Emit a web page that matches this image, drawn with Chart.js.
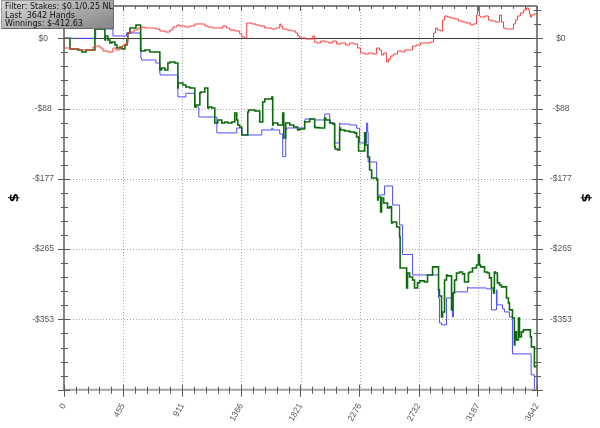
<!DOCTYPE html>
<html><head><meta charset="utf-8">
<script src="https://cdn.jsdelivr.net/npm/chart.js@4.4.0/dist/chart.umd.min.js"></script>
<style>
html,body{margin:0;padding:0;background:#fff;}
#wrap{position:relative;width:600px;height:428px;overflow:hidden;}
#info{position:absolute;left:1px;top:0;width:113px;height:29px;box-sizing:border-box;border:1px solid #6a6a6a;border-top-color:#9a9a9a;border-left-color:#9a9a9a;
background:linear-gradient(160deg,#d8d8d8 0%,#b4b4b4 45%,#848484 100%);font:8px "DejaVu Sans",sans-serif;color:#111;line-height:8.6px;padding:2px 0 0 3px;white-space:pre;}
</style></head><body>
<div id="wrap"><canvas id="c" width="600" height="428"></canvas><div id="info"></div></div>
<script>
const infoLines = ["Filter: Stakes: $0.1/0.25 NL", "Last  3642 Hands", "Winnings: $-412.63"];
const xTicks = [0, 455, 911, 1366, 1821, 2276, 2732, 3187, 3642];
const xTickLabels = ["0", "455", "911", "1366", "1821", "2276", "2732", "3187", "3642"];
const yTicks = [0, -88.32, -176.64, -264.96, -353.28];
const yTickLabels = ["$0", "-$88", "-$177", "-$265", "-$353"];
const yMin = -441.6, yMax = 40.6, xMin = 0, xMax = 3642;

// Winnings (green)
const greenHands = [0,46,54,108,138,169,200,238,244,308,315,319,338,354,369,392,408,431,446,469,485,492,508,523,554,569,590,592,623,661,700,738,751,777,800,815,854,877,879,892,915,938,969,1007,1015,1030,1046,1054,1084,1107,1115,1138,1161,1184,1215,1238,1261,1292,1315,1330,1338,1353,1369,1377,1415,1422,1430,1469,1507,1523,1530,1546,1561,1600,1607,1611,1646,1684,1692,1707,1715,1738,1769,1799,1815,1853,1892,1930,1934,1969,2007,2015,2046,2069,2084,2088,2107,2122,2130,2161,2199,2238,2253,2268,2276,2315,2322,2338,2353,2369,2376,2407,2415,2419,2438,2445,2461,2491,2507,2522,2530,2561,2584,2588,2599,2638,2645,2661,2684,2699,2722,2738,2776,2799,2838,2853,2884,2891,2907,2915,2930,2945,2953,2984,2991,3007,3022,3045,3068,3084,3099,3114,3122,3145,3176,3191,3199,3207,3238,3261,3276,3291,3307,3314,3322,3337,3353,3368,3407,3422,3430,3453,3468,3472,3484,3499,3507,3522,3537,3561,3591,3599,3607,3622,3626,3642];
const greenWin = [0,0,-13.4,-13.4,-14.7,-17.2,-14.7,-14.7,11.7,11.7,21.7,-2.1,2.9,-2.1,-5.9,-4.6,-8.4,-12.2,-10.9,-13.4,-8.4,-2.1,6.7,12.9,12.9,16.7,16.7,-14.7,-16.0,-14.7,-17.2,-17.2,-39.8,-37.3,-39.8,-31.0,-29.8,-31.0,-62.4,-56.2,-56.2,-58.7,-61.2,-62.4,-86.3,-83.8,-83.8,-68.7,-67.5,-62.4,-87.6,-86.3,-87.6,-106.4,-102.6,-106.4,-105.2,-106.4,-105.2,-93.8,-102.6,-108.9,-111.4,-121.5,-121.5,-92.6,-90.1,-90.1,-91.3,-105.2,-105.2,-80.1,-76.3,-76.3,-73.7,-108.9,-106.4,-108.9,-93.8,-125.3,-106.4,-106.4,-108.9,-111.4,-115.2,-113.9,-104.8,-101.4,-111.1,-112.2,-112.7,-100.1,-102.6,-106.4,-107.7,-136.2,-139.1,-140.3,-112.7,-115.2,-116.4,-117.7,-118.9,-124.0,-141.6,-141.6,-118.9,-134.0,-149.1,-165.5,-175.5,-175.5,-178.0,-203.1,-199.4,-218.2,-200.6,-206.9,-213.2,-211.9,-232.0,-230.8,-237.1,-249.6,-288.6,-288.6,-313.7,-294.9,-299.9,-303.7,-313.7,-307.4,-304.9,-306.2,-297.4,-287.3,-287.3,-316.2,-323.8,-350.1,-343.9,-303.7,-297.4,-298.6,-341.3,-320.0,-303.7,-294.9,-293.6,-296.1,-306.2,-306.2,-294.9,-293.6,-288.6,-284.8,-272.2,-284.8,-287.3,-293.6,-294.9,-301.1,-313.7,-320.0,-293.6,-294.9,-307.4,-310.0,-312.4,-326.3,-332.5,-341.3,-351.4,-385.3,-368.9,-379.0,-351.4,-375.2,-368.9,-366.4,-366.4,-375.2,-387.8,-387.8,-412.6,-412.63];

// All-in EV (blue)
const blueHands = [0,244,244,377,381,482,492,592,596,638,707,711,738,742,815,877,879,938,946,1007,1015,1038,1040,1177,1184,1330,1338,1369,1377,1523,1527,1600,1607,1661,1684,1707,1715,1815,1853,1857,1930,2007,2011,2046,2050,2084,2088,2122,2126,2199,2253,2257,2276,2280,2330,2334,2338,2342,2353,2407,2411,2415,2430,2468,2472,2530,2534,2584,2588,2607,2611,2684,2688,2884,2891,2907,2945,2949,2991,2999,3015,3107,3111,3253,3291,3295,3330,3334,3337,3376,3391,3430,3434,3453,3457,3597,3599,3622,3626,3642];
const blueEV = [0,0,11.7,11.7,2.9,2.9,6.7,6.7,-24.7,-27.3,-27.3,-31.0,-31.0,-44.9,-46.1,-46.1,-73.7,-73.7,-69.1,-69.1,-86.3,-86.3,-98.9,-98.9,-118.9,-118.9,-112.7,-112.7,-121.5,-121.5,-115.2,-115.2,-112.7,-115.2,-120.2,-148.7,-115.2,-112.7,-112.7,-102.6,-101.4,-102.6,-95.1,-95.1,-102.6,-106.4,-131.5,-131.5,-106.4,-107.7,-108.9,-113.1,-113.1,-131.5,-131.5,-106.4,-106.4,-117.7,-155.4,-155.4,-175.5,-175.5,-196.9,-196.9,-185.6,-185.6,-209.5,-209.5,-234.6,-234.6,-271.7,-271.7,-297.4,-297.4,-326.3,-357.6,-360.1,-326.3,-326.3,-350.1,-318.7,-318.7,-312.4,-313.7,-314.9,-341.3,-341.3,-316.2,-335.0,-335.0,-340.1,-343.9,-350.1,-350.1,-396.6,-396.6,-423.0,-423.0,-441.5,-441.5];

// Non-showdown winnings (red)
const redHands = [0,46,123,223,238,277,300,338,377,400,431,454,477,492,508,538,569,600,623,661,707,738,777,815,838,869,892,931,969,1007,1046,1084,1107,1146,1184,1223,1253,1277,1315,1353,1369,1392,1407,1415,1446,1477,1507,1546,1569,1600,1630,1661,1669,1684,1715,1753,1784,1799,1815,1838,1861,1892,1915,1930,1946,1976,2007,2038,2069,2099,2130,2169,2199,2230,2261,2284,2315,2345,2376,2407,2430,2445,2461,2484,2499,2515,2538,2568,2599,2622,2653,2684,2714,2745,2776,2822,2845,2861,2876,2899,2915,2930,2953,2976,3007,3038,3068,3099,3130,3153,3176,3184,3199,3207,3238,3268,3291,3322,3353,3368,3384,3399,3422,3461,3476,3491,3514,3537,3561,3576,3584,3591,3599,3607,3622,3642];
const redNSD = [0,-12.2,-13.4,-14.7,-10.9,-9.7,-12.2,-16.0,-17.2,-12.2,-14.7,-10.9,-8.4,-5.9,6.7,7.9,10.4,12.9,14.2,12.9,12.9,11.7,9.2,7.9,10.4,14.2,16.7,15.5,14.2,15.5,18.0,18.0,15.5,14.2,12.9,12.9,15.5,12.9,10.4,9.2,5.4,1.6,0.4,19.2,19.2,18.0,16.7,15.5,12.9,12.9,11.7,12.9,18.0,15.5,11.7,10.4,9.2,6.7,2.9,0.4,0.4,-0.9,-0.9,2.9,-4.6,-5.9,-3.4,-4.6,-5.9,-3.4,-7.2,-5.9,-8.4,-5.9,-7.2,-12.2,-18.5,-19.7,-18.5,-19.7,-12.2,-14.7,-21.0,-18.5,-29.8,-26.0,-22.2,-19.7,-16.0,-17.2,-14.7,-14.7,-9.7,-8.4,-5.9,-5.9,-4.6,6.7,12.9,10.4,9.2,23.0,28.0,26.7,25.5,24.2,21.7,20.5,19.2,16.7,18.0,29.3,40.0,28.0,26.7,28.0,23.0,21.7,20.5,29.3,20.5,12.9,11.7,11.7,18.0,23.0,28.0,31.8,35.6,38.1,35.6,30.5,26.7,29.3,29.3,30.5];

document.getElementById('info').textContent = infoLines.join('\n');

const pts = (xs, ys) => xs.map((x, i) => ({x: x, y: ys[i]}));
const tickFont = {family: '"Liberation Sans", Arial, sans-serif', size: 8.5};
const titleFont = {family: '"DejaVu Sans", sans-serif', size: 13, weight: 'bold'};

function line(ctx, x1, y1, x2, y2) { ctx.beginPath(); ctx.moveTo(x1, y1); ctx.lineTo(x2, y2); ctx.stroke(); }

const axesPlugin = {
  id: 'axesPlugin',
  beforeDatasetsDraw(chart) {
    const {ctx, chartArea: a} = chart;
    const x = chart.scales.x, y = chart.scales.y;
    ctx.save();
    ctx.lineWidth = 1;
    ctx.strokeStyle = '#a8a8a8';
    ctx.setLineDash([1, 2]);
    xTicks.forEach(v => {
      if (v > xMin && v < xMax) { const px = Math.round(x.getPixelForValue(v)) + 0.5; line(ctx, px, a.top, px, a.bottom); }
    });
    yTicks.forEach(v => {
      if (v !== 0) { const py = Math.round(y.getPixelForValue(v)) + 0.5; line(ctx, a.left, py, a.right, py); }
    });
    ctx.setLineDash([]);
    ctx.strokeStyle = '#3c3c3c';
    const z = Math.round(y.getPixelForValue(0)) + 0.5;
    line(ctx, a.left - 6, z, a.right + 6, z);
    ctx.restore();
  },
  afterDatasetsDraw(chart) {
    const {ctx, chartArea: a} = chart;
    const x = chart.scales.x, y = chart.scales.y;
    const yStep = (yTicks[0] - yTicks[1]) / 5;
    const xStep = (xTicks[1] - xTicks[0]) / 5;
    const yMinor = [];
    for (let k = Math.ceil(yMin / yStep); k <= Math.floor(yMax / yStep); k++) yMinor.push(k * yStep);
    const xMinor = [];
    for (let k = 0; k * xStep <= xMax + 0.5; k++) xMinor.push(k * xStep);
    ctx.save();
    ctx.strokeStyle = '#a4a4a4'; ctx.lineWidth = 2;
    line(ctx, a.left, a.bottom, a.right, a.bottom);
    ctx.strokeStyle = '#5a5a5a'; ctx.lineWidth = 1.5;
    line(ctx, a.left, a.top, a.right, a.top);
    line(ctx, a.left, a.top, a.left, a.bottom);
    line(ctx, a.right, a.top, a.right, a.bottom);
    ctx.lineWidth = 1; ctx.strokeStyle = '#5a5a5a';
    yMinor.forEach(v => {
      const py = Math.round(y.getPixelForValue(v)) + 0.5;
      const major = Math.abs(Math.round(v / yStep)) % 5 === 0;
      if (major) { line(ctx, a.left - 6, py, a.left + 6, py); line(ctx, a.right - 5, py, a.right + 6, py); }
      else { line(ctx, a.left - 3, py, a.left + 4, py); line(ctx, a.right - 3, py, a.right + 4, py); }
    });
    xMinor.forEach((v, k) => {
      const px = Math.round(x.getPixelForValue(v)) + 0.5;
      const major = k % 5 === 0;
      if (major) { line(ctx, px, a.bottom - 5, px, a.bottom + 7); line(ctx, px, a.top, px, a.top + 5); }
      else { line(ctx, px, a.bottom - 3, px, a.bottom + 4); line(ctx, px, a.top, px, a.top + 3); }
    });
    ctx.restore();
  }
};

const noPad = s => { s.paddingTop = 0; s.paddingBottom = 0; s.paddingLeft = 0; s.paddingRight = 0; };
const hiddenGrid = {display: false, drawTicks: false};
new Chart(document.getElementById('c'), {
  type: 'line',
  data: {
    datasets: [
      {label: 'Non-showdown', data: pts(redHands, redNSD), borderColor: '#ff3c3c', borderWidth: 1, pointRadius: 0, stepped: 'after', order: 0},
      {label: 'Winnings', data: pts(greenHands, greenWin), borderColor: '#0b6b0b', borderWidth: 1.6, pointRadius: 0, stepped: 'after', order: 1},
      {label: 'All-in EV', data: pts(blueHands, blueEV), borderColor: '#4d4dff', borderWidth: 1, pointRadius: 0, stepped: 'after', order: 2}
    ]
  },
  options: {
    responsive: false, animation: false, devicePixelRatio: 1,
    layout: {padding: {top: 6, left: 0, right: 0, bottom: 0}},
    plugins: {legend: {display: false}, tooltip: {enabled: false}},
    scales: {
      x: {
        type: 'linear', min: xMin, max: xMax, position: 'bottom',
        grid: hiddenGrid, border: {display: false},
        afterBuildTicks: s => { s.ticks = xTicks.map(v => ({value: v})); },
        afterFit: s => { s.height = 38.3; noPad(s); },
        ticks: {autoSkip: false, minRotation: 60, maxRotation: 60, padding: 12, color: '#555', font: tickFont,
          callback: (v, i) => xTickLabels[i]}
      },
      y: {
        type: 'linear', min: yMin, max: yMax, position: 'left',
        grid: hiddenGrid, border: {display: false},
        afterBuildTicks: s => { s.ticks = yTicks.map(v => ({value: v})); },
        afterFit: s => { s.width = 64; noPad(s); },
        title: {display: true, text: '$', color: '#000', font: titleFont, padding: {top: 7, bottom: 0}},
        ticks: {crossAlign: 'center', padding: 10, color: '#555', font: tickFont, callback: (v, i) => yTickLabels[i]}
      },
      y2: {
        type: 'linear', min: yMin, max: yMax, position: 'right',
        grid: hiddenGrid, border: {display: false},
        afterBuildTicks: s => { s.ticks = yTicks.map(v => ({value: v})); },
        afterFit: s => { s.width = 63; noPad(s); },
        title: {display: true, text: '$', color: '#000', font: titleFont, padding: {top: 7, bottom: 0}},
        ticks: {crossAlign: 'center', padding: 13, color: '#555', font: tickFont, callback: (v, i) => yTickLabels[i]}
      }
    }
  },
  plugins: [axesPlugin]
});
</script>
</body></html>
